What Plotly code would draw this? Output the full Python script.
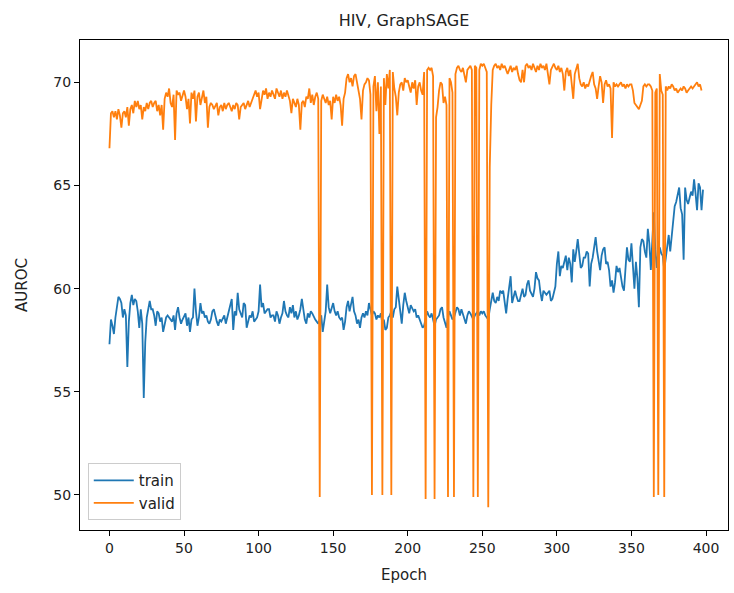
import plotly.graph_objects as go

title = "HIV, GraphSAGE"
x_label = "Epoch"
y_label = "AUROC"
x_ticks = [0, 50, 100, 150, 200, 250, 300, 350, 400]
y_ticks = [50, 55, 60, 65, 70]

valid = [
    66.8, 68.5, 68.6, 68.3, 68.6, 68.2, 68.7, 68.4, 67.8, 68.5,
    68.6, 68.3, 68.8, 67.9, 68.7, 68.9, 68.5, 69.1, 68.8, 69.1,
    68.7, 68.9, 68.2, 68.8, 68.6, 69.0, 68.7, 69.0, 69.1, 68.8,
    69.0, 69.1, 68.6, 68.9, 68.4, 68.9, 67.7, 69.2, 69.5, 69.3,
    69.7, 69.0, 68.8, 69.4, 67.2, 69.6, 69.4, 69.5, 69.1, 69.4,
    69.6, 69.3, 68.7, 69.2, 68.0, 69.5, 69.2, 69.6, 68.1, 69.3,
    69.5, 68.9, 69.3, 69.6, 69.0, 69.3, 67.8, 68.8, 69.0, 68.9,
    68.7, 68.9, 69.0, 68.4, 68.8, 68.9, 68.6, 69.0, 68.7, 68.9,
    69.0, 68.8, 68.6, 68.9, 68.7, 69.0, 68.9, 68.2, 68.8, 68.9,
    69.0, 68.7, 68.9, 69.1, 68.8, 69.0, 69.2, 69.4, 69.6, 69.3,
    69.5, 68.7, 69.3, 69.6, 69.4, 69.7, 69.2, 69.5, 69.3, 69.6,
    69.4, 69.2, 69.7, 69.5, 69.3, 69.6, 69.2, 69.5, 69.3, 69.6,
    69.4, 69.1, 68.5, 69.2, 69.0, 68.8, 69.2, 68.9, 67.7, 69.0,
    69.1, 68.8, 69.3, 69.2, 69.7, 69.0, 69.4, 68.9, 69.3, 69.5,
    69.2, 49.9, 69.1, 69.4, 69.2, 69.0, 69.3, 68.9, 69.1, 68.2,
    69.3, 69.0, 69.4, 69.1, 69.3, 68.9, 67.9, 69.2, 69.5, 70.2,
    70.4, 70.0, 70.2, 69.8, 70.3, 70.4, 70.0, 69.5, 69.2, 68.2,
    69.6, 69.9, 70.0, 70.2, 70.1, 69.4, 50.0, 69.8, 70.3, 68.6,
    70.0, 67.5, 69.8, 50.0, 70.2, 68.9, 70.4, 69.7, 70.6, 50.0,
    70.5, 69.7, 69.3, 68.4, 69.5, 69.9, 70.0, 69.6, 70.2, 70.0,
    70.1, 69.8, 69.5, 70.0, 69.7, 70.1, 68.9, 69.8, 70.0, 69.6,
    69.4, 70.5, 49.8, 70.6, 70.7, 70.6, 70.7, 70.3, 49.8, 68.3,
    68.8, 69.6, 70.0, 69.9, 69.0, 69.3, 68.9, 49.9, 70.2, 70.0,
    69.5, 49.9, 70.4, 70.7, 70.8, 70.6, 70.5, 70.7, 70.3, 70.0,
    70.6, 70.7, 70.8, 70.6, 49.9, 70.8, 70.7, 49.9, 70.6, 70.9,
    70.8, 70.9, 70.7, 70.5, 49.4, 65.9, 68.9, 70.6, 70.8, 70.9,
    70.7, 70.8, 70.6, 70.9, 70.7, 70.8, 70.6, 70.4, 70.6, 70.8,
    70.5, 70.7, 70.6, 70.8, 70.4, 70.1, 70.0, 70.6, 70.0, 70.8,
    70.9, 70.7, 70.8, 70.6, 70.9, 70.7, 70.5, 70.8, 70.6, 70.9,
    70.7, 70.8, 70.6, 70.9, 70.4, 69.9, 70.6, 70.8, 70.9, 70.7,
    70.6, 70.8, 70.5, 70.7, 70.4, 69.6, 70.5, 70.7, 70.3, 70.6,
    70.0, 69.2, 70.4, 70.6, 70.9, 70.2, 69.9, 69.8, 70.0, 69.7,
    69.9, 69.8, 70.1, 70.3, 70.5, 69.9, 69.7, 69.2, 69.8, 70.3,
    70.0, 69.0, 69.9, 70.1, 69.8, 69.9, 69.7, 67.3, 70.0, 69.8,
    69.9, 69.8, 69.9, 70.0, 69.8, 69.9, 69.7, 69.9, 69.8, 69.9,
    69.9, 69.6, 69.0, 68.9, 68.8, 68.7, 68.9, 69.1, 69.8, 69.9,
    69.8, 69.9, 69.9, 69.8, 69.6, 49.9, 69.5, 69.7, 50.0, 70.4,
    69.6, 69.4, 49.9, 69.8, 69.6, 69.8, 69.7, 69.9, 69.8, 69.6,
    69.7, 69.5, 69.6, 69.7, 69.6, 69.8, 69.7, 69.5, 69.6, 69.7,
    69.8, 69.7, 69.8, 69.9, 70.0, 69.8, 69.9, 69.6,
]

train = [
    57.3, 58.5, 58.2, 57.8, 58.6, 59.2, 59.6, 59.5, 59.3, 58.6,
    59.0, 58.7, 56.2, 58.4, 59.3, 59.7, 59.2, 59.5, 59.4, 58.9,
    58.1, 59.0, 58.3, 54.7, 57.4, 58.6, 59.1, 59.4, 59.0, 59.0,
    58.7, 58.2, 58.9, 58.8, 58.4, 58.6, 57.9, 58.3, 58.6, 58.7,
    58.6, 58.5, 58.4, 58.7, 58.0, 58.8, 59.1, 58.6, 58.3, 58.5,
    58.7, 58.8, 58.2, 58.6, 57.9, 58.5, 58.6, 60.0, 58.9, 58.2,
    58.6, 59.3, 58.8, 58.9, 58.6, 58.7, 58.4, 58.3, 58.5, 58.9,
    59.0, 58.6, 58.4, 58.2, 58.5, 58.4, 58.6, 58.7, 58.3, 58.6,
    58.9, 59.2, 59.5, 58.0, 58.9, 58.7, 59.8, 59.0, 58.8, 58.6,
    59.3, 59.2, 58.1, 58.5, 58.7, 58.6, 58.9, 58.4, 58.5, 58.6,
    58.9, 60.2, 59.1, 59.3, 58.8, 58.9, 59.0, 59.0, 58.6, 58.7,
    58.7, 58.4, 58.9, 58.7, 58.3, 58.6, 58.8, 59.4, 58.9, 58.7,
    58.6, 59.1, 58.8, 59.2, 58.6, 58.9, 58.5, 58.7, 59.0, 59.5,
    58.9, 58.5, 58.3, 58.8, 58.6, 58.9, 58.8, 58.6, 58.5, 58.4,
    58.3, 58.5, 58.7, 57.9, 58.5, 58.9, 60.2, 59.1, 58.8, 59.0,
    59.3, 58.9, 58.7, 58.9, 58.6, 58.5, 58.6, 58.0, 58.4, 59.1,
    59.4, 58.9, 59.2, 59.6, 58.9, 58.7, 58.3, 58.5, 58.1, 58.6,
    58.8, 58.6, 58.9, 58.7, 59.3, 59.0, 58.7, 58.9, 58.8, 58.5,
    58.7, 58.6, 58.8, 58.3, 58.5, 58.0, 58.1, 58.6, 58.7, 58.9,
    58.6, 59.0, 59.1, 60.1, 59.4, 58.7, 58.3, 59.2, 59.8, 59.4,
    59.0, 58.8, 59.2, 59.0, 58.9, 59.0, 58.6, 58.7, 58.5, 58.3,
    58.1, 58.2, 58.6, 58.9, 58.7, 58.6, 58.8, 58.5, 58.2, 58.5,
    58.6, 58.7, 59.0, 59.1, 58.6, 58.4, 58.1, 58.6, 58.9, 58.7,
    58.5, 58.6, 58.8, 59.1, 59.0, 58.7, 59.0, 58.8, 58.6, 58.3,
    58.7, 58.9, 58.8, 58.6, 58.5, 58.7, 58.8, 58.9, 58.7, 58.9,
    58.8, 58.9, 58.7, 58.6, 58.5, 59.0, 59.5, 59.8, 59.4, 59.3,
    59.6, 59.4, 59.9, 59.8, 59.9, 59.3, 58.8, 59.5, 60.0, 60.6,
    59.3, 59.7, 59.9, 59.6, 59.4, 59.4, 59.8, 60.0, 59.6, 59.7,
    60.2, 60.4, 59.9, 59.7, 59.6, 60.0, 60.8, 60.5, 60.4, 59.8,
    59.4, 59.9, 59.8, 59.7, 59.8, 59.9, 59.4, 59.5, 59.8, 60.1,
    61.2, 61.8, 60.6, 61.1, 61.0, 61.4, 61.6, 60.9, 61.5, 61.2,
    60.3, 61.9, 61.3, 61.8, 62.4, 61.7, 61.0, 61.1, 61.5, 61.5,
    61.8, 61.7, 60.1, 61.2, 61.5, 62.0, 62.5, 61.8, 61.2, 60.9,
    61.6, 61.9, 62.0, 61.2, 61.3, 60.9, 60.1, 60.4, 59.8, 60.3,
    61.1, 60.8, 61.0, 60.5, 60.1, 59.9, 60.8, 62.0, 61.4, 61.3,
    62.2, 61.1, 60.0, 61.3, 60.5, 59.1, 62.0, 62.4, 62.3, 61.8,
    61.5, 62.9, 62.2, 60.9, 62.3, 63.7, 61.9, 61.0, 61.8, 62.0,
    61.7, 61.6, 60.9, 61.5, 62.2, 62.6, 61.8, 62.5, 63.0, 64.0,
    64.2, 64.5, 64.9, 63.9, 63.6, 61.4, 64.9, 64.3, 64.1, 64.4,
    64.7, 64.5, 65.3, 64.6, 63.8, 65.1, 64.9, 63.8, 64.8,
]

epochs_train = list(range(len(train)))
epochs_valid = list(range(len(valid)))

font = "DejaVu Sans, Arial, sans-serif"

fig = go.Figure()
fig.add_trace(go.Scatter(x=epochs_train, y=train, mode="lines", name="train",
                         line=dict(color="#1f77b4", width=1.8)))
fig.add_trace(go.Scatter(x=epochs_valid, y=valid, mode="lines", name="valid",
                         line=dict(color="#ff7f0e", width=1.8)))

axis_common = dict(showline=True, mirror=True, linecolor="black", linewidth=1,
                   showgrid=False, zeroline=False, ticks="outside", ticklen=5,
                   tickcolor="black", tickfont=dict(family=font, size=14, color="#222"))

fig.update_layout(
    width=734, height=593,
    margin=dict(l=80, r=6, t=40, b=63),
    paper_bgcolor="white", plot_bgcolor="white",
    font=dict(family=font, size=14, color="#222"),
    title=dict(text=title, x=0.5, xref="paper", xanchor="center",
               y=1 - 20 / 593, yref="container", yanchor="middle",
               font=dict(family=font, size=16, color="#222")),
    xaxis=dict(range=[-19.75, 414.75], tickvals=x_ticks,
               title=dict(text=x_label, font=dict(family=font, size=15), standoff=14),
               **axis_common),
    yaxis=dict(range=[48.3, 72.05], tickvals=y_ticks,
               title=dict(text=y_label, font=dict(family=font, size=15), standoff=22),
               **axis_common),
    legend=dict(x=0.012, y=0.02, xanchor="left", yanchor="bottom",
                bgcolor="rgba(255,255,255,0.8)", bordercolor="#cccccc", borderwidth=1,
                font=dict(family=font, size=15), itemwidth=40),
    showlegend=True,
)

fig.write_html("out.html")
